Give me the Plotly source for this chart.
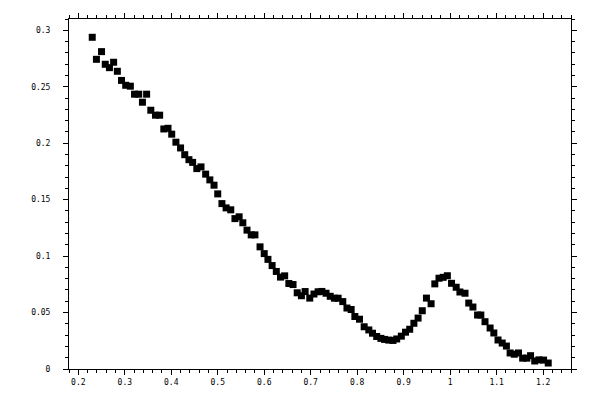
import plotly.graph_objects as go

# values
x_vals = [
    0.230, 0.239, 0.250, 0.258, 0.267, 0.276, 0.284, 0.293, 0.302, 0.312,
    0.321, 0.330, 0.338, 0.347, 0.356, 0.366, 0.375, 0.384, 0.393, 0.401,
    0.410, 0.420, 0.429, 0.438, 0.446, 0.455, 0.464, 0.474, 0.483, 0.492,
    0.500, 0.509, 0.518, 0.528, 0.537, 0.546, 0.554, 0.563, 0.572, 0.580,
    0.591, 0.600, 0.608, 0.617, 0.626, 0.635, 0.644, 0.653, 0.662, 0.671,
    0.680, 0.688, 0.698, 0.707, 0.716, 0.724, 0.733, 0.742, 0.751, 0.759,
    0.769, 0.778, 0.787, 0.795, 0.805, 0.815, 0.825, 0.833, 0.842, 0.851,
    0.859, 0.868, 0.877, 0.885, 0.895, 0.904, 0.913, 0.922, 0.931, 0.940,
    0.949, 0.959, 0.967, 0.976, 0.985, 0.994, 1.003, 1.013, 1.021, 1.032,
    1.040, 1.049, 1.059, 1.066, 1.075, 1.086, 1.094, 1.103, 1.112, 1.121,
    1.129, 1.138, 1.147, 1.156, 1.165, 1.173, 1.182, 1.191, 1.201, 1.211,
]
y_vals = [
    0.2938, 0.2743, 0.2811, 0.2699, 0.2669, 0.2717, 0.2637, 0.2556, 0.2513, 0.2505,
    0.2434, 0.2434, 0.2363, 0.2434, 0.2292, 0.2248, 0.2248, 0.2126, 0.2132, 0.2080,
    0.2009, 0.1958, 0.1898, 0.1854, 0.1830, 0.1775, 0.1790, 0.1726, 0.1675, 0.1628,
    0.1551, 0.1465, 0.1427, 0.1410, 0.1332, 0.1348, 0.1295, 0.1230, 0.1188, 0.1188,
    0.1082, 0.1022, 0.0971, 0.0916, 0.0864, 0.0814, 0.0825, 0.0757, 0.0748, 0.0675,
    0.0649, 0.0686, 0.0628, 0.0664, 0.0684, 0.0687, 0.0671, 0.0644, 0.0627, 0.0627,
    0.0597, 0.0540, 0.0527, 0.0465, 0.0441, 0.0374, 0.0346, 0.0317, 0.0288, 0.0271,
    0.0262, 0.0256, 0.0253, 0.0266, 0.0291, 0.0326, 0.0352, 0.0405, 0.0451, 0.0516,
    0.0628, 0.0578, 0.0754, 0.0804, 0.0812, 0.0826, 0.0759, 0.0724, 0.0682, 0.0671,
    0.0584, 0.0549, 0.0478, 0.0478, 0.0419, 0.0363, 0.0319, 0.0257, 0.0230, 0.0203,
    0.0142, 0.0131, 0.0142, 0.0096, 0.0096, 0.0118, 0.0071, 0.0081, 0.0079, 0.0053,
]

x_range = [0.18, 1.26]
y_range = [0, 0.31]

fig = go.Figure(
    go.Scatter(
        x=x_vals,
        y=y_vals,
        mode="markers",
        marker=dict(symbol="square", size=7, color="black", line=dict(width=0)),
        showlegend=False,
    )
)

axis_style = dict(
    showline=True,
    linecolor="black",
    linewidth=1,
    mirror="allticks",
    ticks="outside",
    ticklen=5,
    tickwidth=1,
    tickcolor="black",
    showgrid=False,
    zeroline=False,
    automargin=False,
    tickfont=dict(family="DejaVu Sans Mono", size=8, color="black"),
)

fig.update_xaxes(
    range=x_range,
    tick0=0,
    dtick=0.1,
    minor=dict(dtick=0.02, ticks="outside", ticklen=3, tickcolor="black", showgrid=False),
    **axis_style,
)
fig.update_yaxes(
    range=y_range,
    tick0=0,
    dtick=0.05,
    ticklabelstandoff=11,
    minor=dict(dtick=0.01, ticks="outside", ticklen=3, tickcolor="black", showgrid=False),
    **axis_style,
)

# the page body adds an 8px offset, margins are shifted to make up for it
fig.update_layout(
    width=600,
    height=400,
    margin=dict(l=61, r=37, t=11, b=39),
    paper_bgcolor="white",
    plot_bgcolor="white",
)

fig.write_html("out.html")
